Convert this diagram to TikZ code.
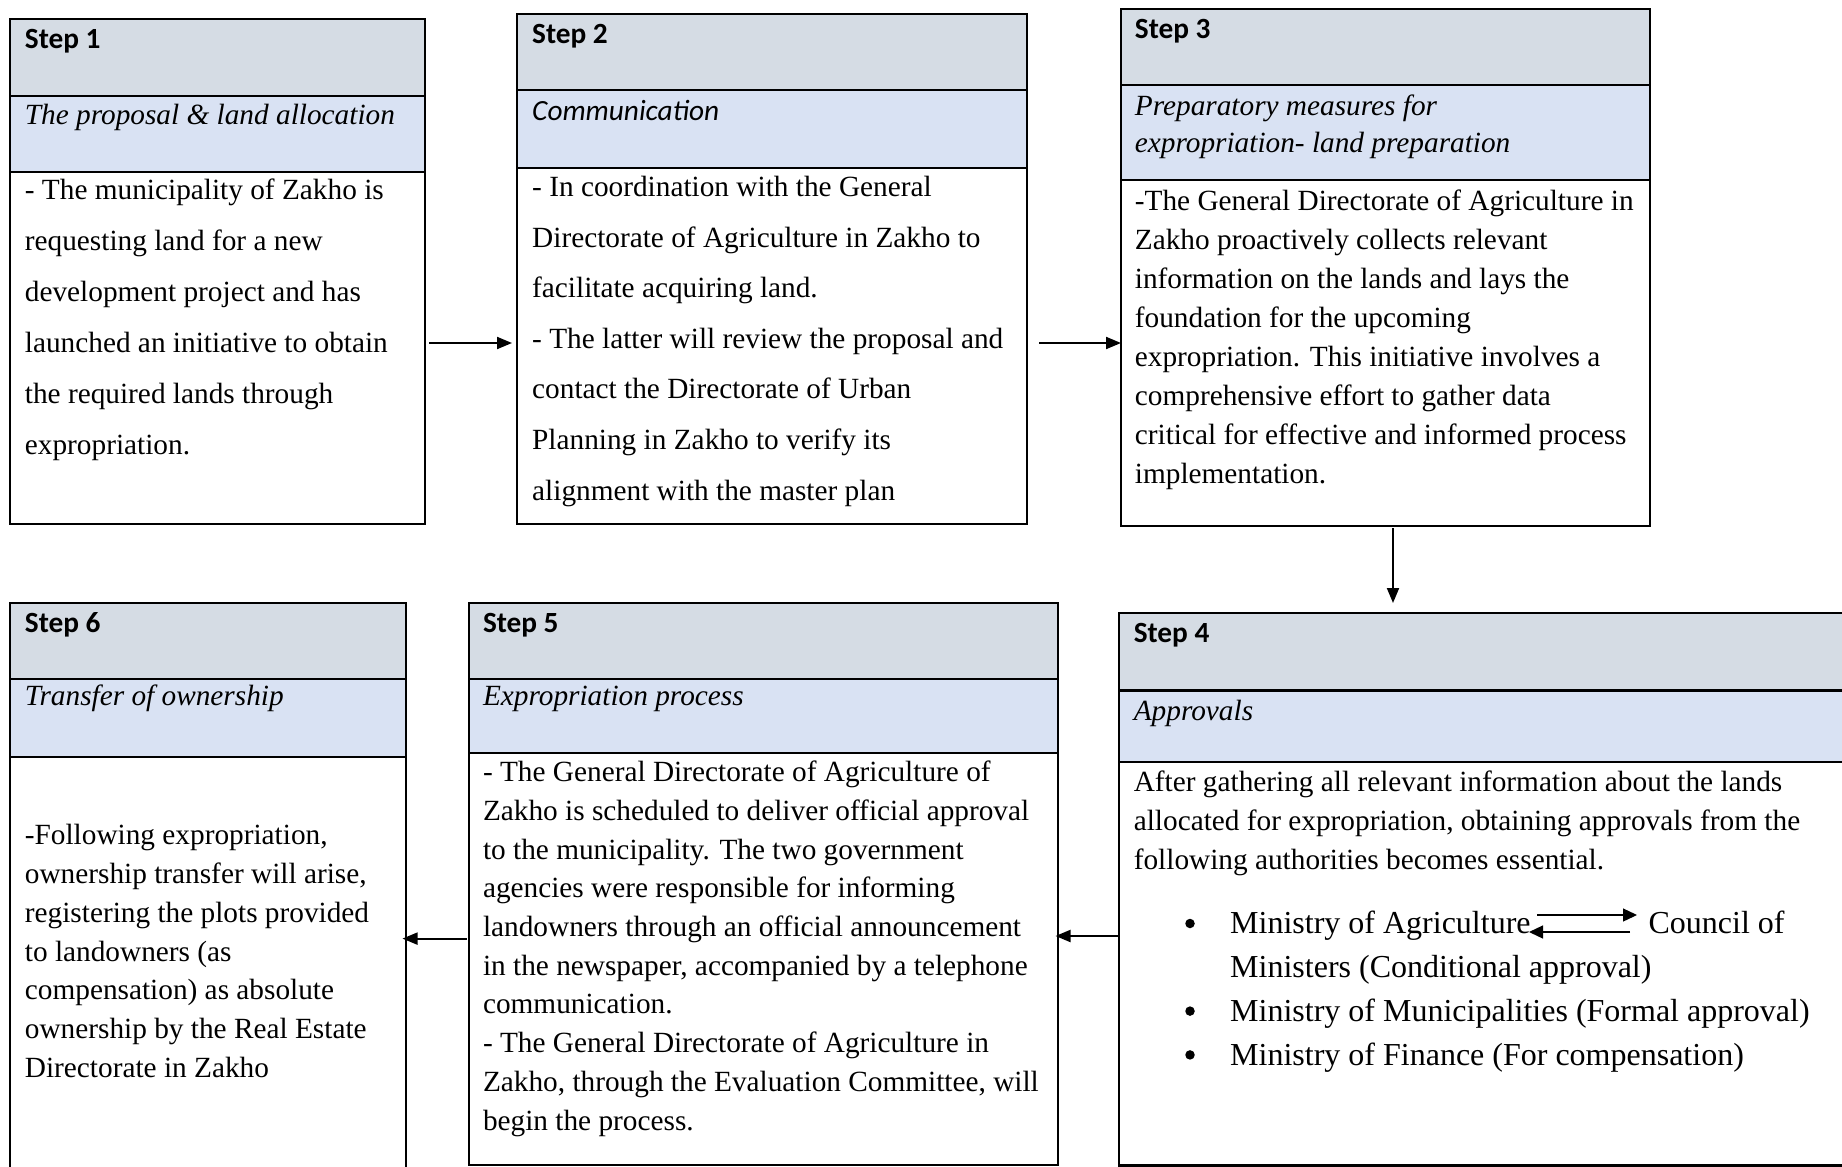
\documentclass[tikz,border=0pt]{standalone}
\usepackage{fontspec}
\setmainfont{Liberation Serif}
\newfontfamily\calibfont{Carlito}
\usetikzlibrary{arrows.meta}
\definecolor{hdrgray}{HTML}{D5DCE4}
\definecolor{subblue}{HTML}{D9E2F3}

% one typeset line, and a block of lines whose baseline is the first line's
\newcommand{\Ln}[1]{\hbox{#1}}
\newcommand{\Block}[1]{\vtop{#1}}

% a step box: header band, title band and body band
% #1 name, #2 left, #3 right, #4 top, #5 header bottom, #6 title bottom, #7 bottom, #8 line width
\newcommand{\stepbox}[8]{%
  \node[band, line width=#8, fill=white, minimum width=#3pt-#2pt, minimum height=#7pt-#6pt] (#1b) at (#2,#6) {};
  \node[band, line width=#8, fill=subblue, minimum width=#3pt-#2pt, minimum height=#6pt-#5pt] (#1t) at (#2,#5) {};
  \node[band, line width=#8, fill=hdrgray, minimum width=#3pt-#2pt, minimum height=#5pt-#4pt] (#1h) at (#2,#4) {};
}

\begin{document}
\begin{tikzpicture}[x=1pt,y=-1pt,
  band/.style={draw=black, inner sep=0pt, outer sep=0pt, anchor=north west, rectangle},
  lbl/.style={anchor=base west, inner sep=0pt, font=\calibfont\bfseries\fontsize{29.3}{35}\selectfont},
  subt/.style={anchor=base west, inner sep=0pt, font=\itshape\fontsize{29.3}{36.6}\selectfont},
  subtc/.style={anchor=base west, inner sep=0pt, font=\calibfont\itshape\fontsize{29.3}{35}\selectfont},
  txt/.style={anchor=base west, inner sep=0pt},
  dot/.style={fill=black, circle, inner sep=0pt, minimum size=9.5pt},
  arr/.style={line width=2pt, -{Triangle[length=15pt,width=12pt]}},
  thinarr/.style={line width=1.3pt, -{Triangle[length=14pt,width=13pt]}}]

\clip (0,0) rectangle (1842,1167);
\fill[white] (0,0) rectangle (1842,1167);

% ---- boxes ----
\stepbox{s1}{9.5}{425}{18.5}{95.5}{172}{524}{2pt}
\stepbox{s2}{517}{1027}{13.5}{89.5}{168}{524}{2pt}
\stepbox{s3}{1121}{1650}{8.5}{85}{180}{526}{2pt}
\stepbox{s4}{1119}{1880}{613}{690.5}{762}{1165.5}{2.6pt}
\stepbox{s5}{468.5}{1057.5}{603}{679}{752.5}{1165}{2pt}
\stepbox{s6}{10}{405.5}{603}{679}{756.5}{1200}{2pt}

% ---- step 1 ----
\node[lbl] (s1lab) at (24.7,48) {Step 1};
\node[subt] (s1sub) at (24.7,124) {The proposal \& land allocation};
\node[txt, font=\fontsize{29.3}{51}\selectfont] (s1txt) at (24.7,199.5) {\Block{%
  \Ln{- The municipality of Zakho is}
  \Ln{requesting land for a new}
  \Ln{development project and has}
  \Ln{launched an initiative to obtain}
  \Ln{the required lands through}
  \Ln{expropriation.}}};

% ---- step 2 ----
\node[lbl] (s2lab) at (532,43) {Step 2};
\node[subtc] (s2sub) at (532,120) {Communication};
\node[txt, font=\fontsize{29.3}{50.6}\selectfont] (s2txt) at (532,196.5) {\Block{%
  \Ln{- In coordination with the General}
  \Ln{Directorate of Agriculture in Zakho to}
  \Ln{facilitate acquiring land.}
  \Ln{- The latter will review the proposal and}
  \Ln{contact the Directorate of Urban}
  \Ln{Planning in Zakho to verify its}
  \Ln{alignment with the master plan}}};

% ---- step 3 ----
\node[lbl] (s3lab) at (1134.7,38) {Step 3};
\node[subt, font=\itshape\fontsize{29.3}{37}\selectfont] (s3sub) at (1134.7,115.5) {\Block{%
  \Ln{Preparatory measures for}
  \Ln{expropriation- land preparation}}};
\node[txt, font=\fontsize{29.3}{39.1}\selectfont] (s3txt) at (1134.7,210) {\Block{%
  \Ln{-The General Directorate of Agriculture in}
  \Ln{Zakho proactively collects relevant}
  \Ln{information on the lands and lays the}
  \Ln{foundation for the upcoming}
  \Ln{expropriation. This initiative involves a}
  \Ln{comprehensive effort to gather data}
  \Ln{critical for effective and informed process}
  \Ln{implementation.}}};

% ---- step 4 ----
\node[lbl] (s4lab) at (1133.6,642) {Step 4};
\node[subt] (s4sub) at (1133.6,720) {Approvals};
\node[txt, font=\fontsize{29.3}{38.8}\selectfont] (s4txt) at (1133.6,791.7) {\Block{%
  \Ln{After gathering all relevant information about the lands}
  \Ln{allocated for expropriation, obtaining approvals from the}
  \Ln{following authorities becomes essential.}}};
\node[txt, font=\fontsize{32}{43.8}\selectfont] (s4list) at (1230,933.7) {\Block{%
  \Ln{Ministry of Agriculture\hspace{118pt}Council of}
  \Ln{Ministers (Conditional approval)}
  \Ln{Ministry of Municipalities (Formal approval)}
  \Ln{Ministry of Finance (For compensation)}}};
% list bullets
\node[dot] (b1) at (1190,923.5) {};
\node[dot] (b2) at (1190,1011.1) {};
\node[dot] (b3) at (1190,1054.9) {};

% exchange between the two approving bodies
\coordinate (agA) at (1537,915);
\coordinate (coA) at (1637,915);
\coordinate (coB) at (1630,932);
\coordinate (agB) at (1529,932);
\draw[thinarr] (agA) -- (coA);
\draw[thinarr] (coB) -- (agB);

% ---- step 5 ----
\node[lbl] (s5lab) at (482.8,632) {Step 5};
\node[subt] (s5sub) at (482.8,705.7) {Expropriation process};
\node[txt, font=\fontsize{29.3}{38.7}\selectfont] (s5txt) at (482.8,781.7) {\Block{%
  \Ln{- The General Directorate of Agriculture of}
  \Ln{Zakho is scheduled to deliver official approval}
  \Ln{to the municipality. The two government}
  \Ln{agencies were responsible for informing}
  \Ln{landowners through an official announcement}
  \Ln{in the newspaper, accompanied by a telephone}
  \Ln{communication.}
  \Ln{- The General Directorate of Agriculture in}
  \Ln{Zakho, through the Evaluation Committee, will}
  \Ln{begin the process.}}};

% ---- step 6 ----
\node[lbl] (s6lab) at (24.7,632) {Step 6};
\node[subt] (s6sub) at (24.7,705.7) {Transfer of ownership};
\node[txt, font=\fontsize{29.3}{38.8}\selectfont] (s6txt) at (24.7,844.7) {\Block{%
  \Ln{-Following expropriation,}
  \Ln{ownership transfer will arise,}
  \Ln{registering the plots provided}
  \Ln{to landowners (as}
  \Ln{compensation) as absolute}
  \Ln{ownership by the Real Estate}
  \Ln{Directorate in Zakho}}};

% ---- flow between steps ----
\coordinate (row1) at (0,343);
\coordinate (col34) at (1393,0);
\coordinate (row45) at (0,936);
\coordinate (row56) at (0,938.6);
\draw[arr, shorten <=4pt, shorten >=5pt] (s1b.east |- row1) -- (s2b.west |- row1);
\draw[arr, shorten <=12pt] (s2b.east |- row1) -- (s3b.west |- row1);
\draw[arr, shorten <=2pt, shorten >=10pt] (s3b.south -| col34) -- (s4h.north -| col34);
\draw[arr, shorten >=-2pt] (s4b.west |- row45) -- (s5b.east |- row45);
\draw[arr, shorten <=2pt, shorten >=-3pt] (s5b.west |- row56) -- (s6b.east |- row56);
\end{tikzpicture}
\end{document}
